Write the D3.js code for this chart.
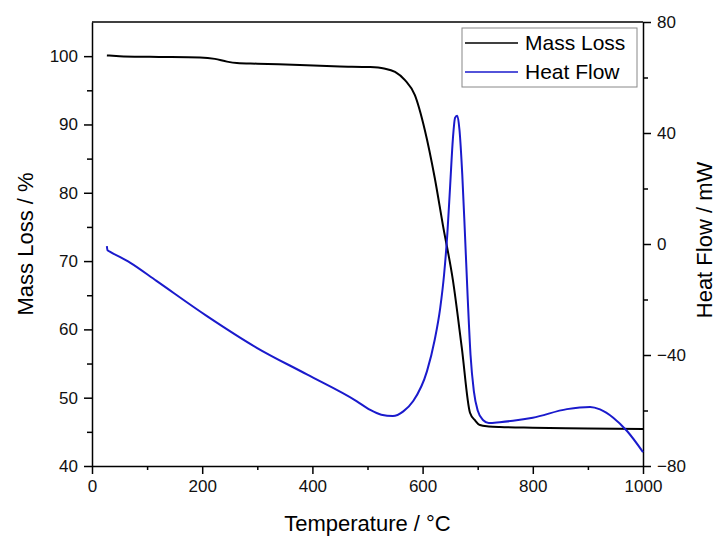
<!DOCTYPE html>
<html>
<head>
<meta charset="utf-8">
<script src="https://cdn.jsdelivr.net/npm/d3@7"></script>
<style>
  body { margin: 0; background: #fff; }
  svg { font-family: Arial, "Liberation Sans", sans-serif; }
  .axis path, .axis line { stroke: #000; stroke-width: 1.5; }
  .axis text { font-size: 17px; fill: #111; }
</style>
</head>
<body>
<svg width="716" height="538"></svg>
<script>
// temperature ticks / labels
var xTicks = [0, 200, 400, 600, 800, 1000];
var leftTicks = [40, 50, 60, 70, 80, 90, 100];
var rightTicks = [-80, -40, 0, 40, 80];

// mass loss (TG) curve
var massT = [27, 50, 105, 196, 223, 245, 263, 300, 377, 450, 505, 530, 550, 568, 586, 604, 622, 637, 655, 671, 686, 695, 704, 720, 740, 800, 900, 1000];
var massV = [100.1, 100.0, 99.9, 99.8, 99.6, 99.2, 99.0, 98.9, 98.7, 98.5, 98.4, 98.2, 97.7, 96.5, 94.3, 89.2, 82.2, 75.2, 67.2, 57.4, 47.8, 46.7, 46.0, 45.8, 45.7, 45.6, 45.5, 45.4];

// heat flow (DSC) curve
var heatT = [27, 28, 33, 69, 117, 208, 299, 390, 480, 505, 525, 546, 565, 583, 608, 622, 632, 639, 645, 650, 655, 659, 663, 667, 672, 677, 682, 687, 693, 700, 710, 720, 740, 764, 800, 862, 904, 922, 946, 971, 1000];
var heatV = [-0.8, -2.2, -2.8, -6.7, -13.3, -25.9, -37.4, -47.0, -56.6, -59.8, -61.5, -62.0, -60.3, -56.6, -45.8, -34.5, -23.0, -11.0, 4.0, 21.0, 38.0, 45.5, 46.2, 41.0, 25.0, 3.0, -20.0, -40.0, -53.0, -60.0, -63.5, -64.5, -64.2, -63.7, -62.6, -59.5, -58.7, -59.6, -62.6, -67.4, -75.0];

var seriesNames = ["Mass Loss", "Heat Flow"];
var seriesColors = ["#000000", "#1a1acc"];

var svg = d3.select("svg");
var x0 = 92, x1 = 643, y0 = 22, y1 = 466;

var x = d3.scaleLinear().domain([0, 1000]).range([x0, x1]);
var yL = d3.scaleLinear().domain([40, 105]).range([y1, y0]);
var yR = d3.scaleLinear().domain([-80, 80]).range([y1, y0]);

// minor ticks first (no labels)
svg.append("g").attr("class", "axis")
    .attr("transform", "translate(0," + y1 + ")")
    .call(d3.axisBottom(x).tickValues(d3.range(100, 1000, 200)).tickSize(4).tickFormat(""))
    .select(".domain").remove();
svg.append("g").attr("class", "axis")
    .attr("transform", "translate(" + x0 + ",0)")
    .call(d3.axisLeft(yL).tickValues(d3.range(45, 105, 10)).tickSize(5).tickFormat(""))
    .select(".domain").remove();
svg.append("g").attr("class", "axis")
    .attr("transform", "translate(" + x1 + ",0)")
    .call(d3.axisRight(yR).tickValues([-60, -20, 20, 60]).tickSize(5).tickFormat(""))
    .select(".domain").remove();

// major axes
svg.append("g").attr("class", "axis")
    .attr("transform", "translate(0," + y1 + ")")
    .call(d3.axisBottom(x).tickValues(xTicks).tickFormat(d3.format("d"))
        .tickSize(8).tickPadding(6).tickSizeOuter(0));
svg.append("g").attr("class", "axis")
    .attr("transform", "translate(" + x0 + ",0)")
    .call(d3.axisLeft(yL).tickValues(leftTicks).tickSize(8).tickPadding(6).tickSizeOuter(0));
svg.append("g").attr("class", "axis")
    .attr("transform", "translate(" + x1 + ",0)")
    .call(d3.axisRight(yR).tickValues(rightTicks).tickSize(8).tickPadding(6).tickSizeOuter(0));

// top frame line
svg.append("line")
    .attr("x1", x0).attr("x2", x1).attr("y1", y0).attr("y2", y0)
    .attr("stroke", "#000").attr("stroke-width", 1.5);

// curves
var massLine = d3.line()
    .x(function (d, i) { return x(massT[i]); })
    .y(function (d) { return yL(d); })
    .curve(d3.curveMonotoneX);
var heatLine = d3.line()
    .x(function (d, i) { return x(heatT[i]); })
    .y(function (d) { return yR(d); })
    .curve(d3.curveMonotoneX);

svg.append("path").datum(massV)
    .attr("d", massLine)
    .attr("fill", "none")
    .attr("stroke", seriesColors[0])
    .attr("stroke-width", 2);
svg.append("path").datum(heatV)
    .attr("d", heatLine)
    .attr("fill", "none")
    .attr("stroke", seriesColors[1])
    .attr("stroke-width", 2);

// axis titles
svg.append("text")
    .attr("x", (x0 + x1) / 2).attr("y", 531)
    .attr("text-anchor", "middle")
    .attr("font-size", 22)
    .text("Temperature / °C");
svg.append("text")
    .attr("transform", "translate(33," + 244 + ") rotate(-90)")
    .attr("text-anchor", "middle")
    .attr("font-size", 22)
    .text("Mass Loss / %");
svg.append("text")
    .attr("transform", "translate(712," + 240 + ") rotate(-90)")
    .attr("text-anchor", "middle")
    .attr("font-size", 22)
    .text("Heat Flow / mW");

// legend
var legend = svg.append("g").attr("transform", "translate(462,28)");
legend.append("rect")
    .attr("width", 175).attr("height", 59)
    .attr("fill", "#fff")
    .attr("stroke", "#888").attr("stroke-width", 1);
seriesNames.forEach(function (name, i) {
    var ly = 15 + i * 29;
    legend.append("line")
        .attr("x1", 3).attr("x2", 56).attr("y1", ly).attr("y2", ly)
        .attr("stroke", seriesColors[i]).attr("stroke-width", 1.5);
    legend.append("text")
        .attr("x", 63).attr("y", ly + 7)
        .attr("font-size", 21)
        .text(name);
});
</script>
</body>
</html>
